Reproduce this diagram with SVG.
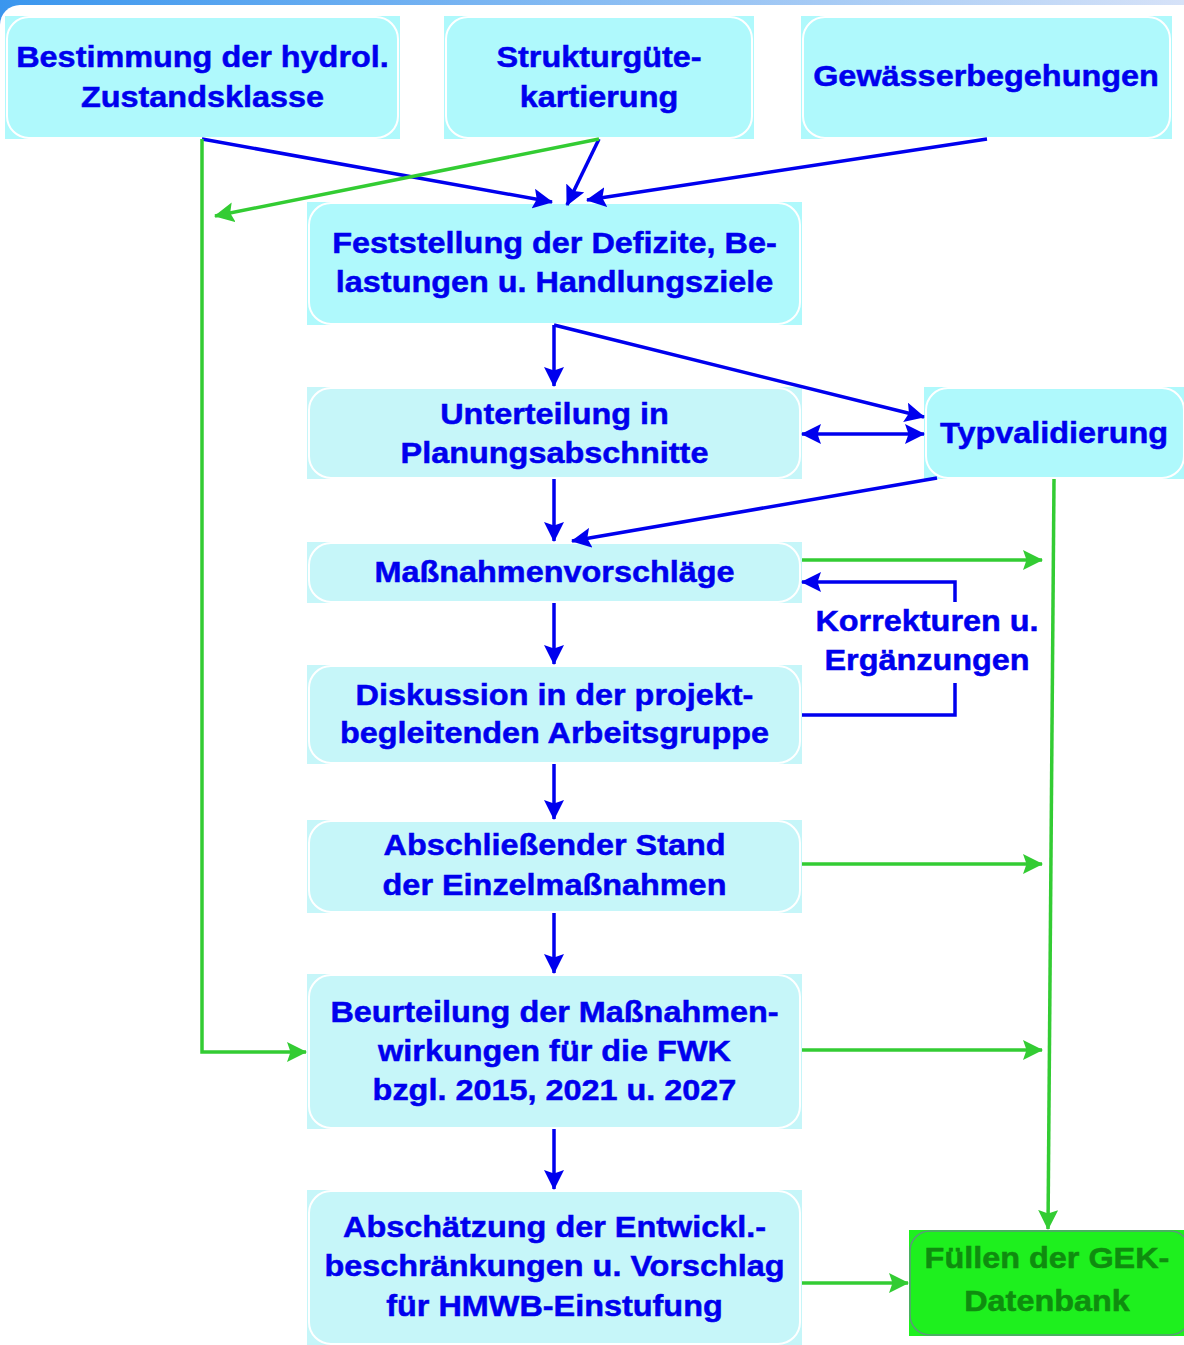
<svg xmlns="http://www.w3.org/2000/svg" width="1184" height="1345" viewBox="0 0 1184 1345">
<defs>
<linearGradient id="topg" x1="0" y1="0" x2="1" y2="0">
<stop offset="0" stop-color="#3a96ee"/>
<stop offset="1" stop-color="#d6e2f8"/>
</linearGradient>
<marker id="ab" viewBox="0 0 20 20" refX="19" refY="10" markerWidth="20" markerHeight="20" markerUnits="userSpaceOnUse" orient="auto-start-reverse">
<path d="M0,0 L20,10 L0,20 L3.5,10 Z" fill="#0000ee"/>
</marker>
<marker id="ag" viewBox="0 0 20 20" refX="19" refY="10" markerWidth="20" markerHeight="20" markerUnits="userSpaceOnUse" orient="auto">
<path d="M0,0 L20,10 L0,20 L3.5,10 Z" fill="#33cc33"/>
</marker>
</defs>
<style>
.t{font-family:"Liberation Sans",Arial,Helvetica,sans-serif;font-weight:bold;font-size:30px;fill:#0000ee;stroke:#0000ee;stroke-width:0.5;text-anchor:middle}
.tg{font-family:"Liberation Sans",Arial,Helvetica,sans-serif;font-weight:bold;font-size:30px;fill:#0f8c0f;stroke:#0f8c0f;stroke-width:0.5;text-anchor:middle}
.bA{fill:#aff9fc}
.bB{fill:#c6f6f9}
.ol{fill:none;stroke:#ffffff;stroke-width:2}
.cb{fill:none;stroke:#0000ee;stroke-width:3.5}
.cg{fill:none;stroke:#33cc33;stroke-width:3.5}
</style>
<rect x="0" y="0" width="1184" height="30" fill="url(#topg)"/>
<rect x="0" y="5" width="1220" height="1400" rx="20" fill="#ffffff"/>

<g id="n1">
<rect class="bA" x="5" y="16" width="395" height="123"/>
<rect class="ol" x="7" y="17" width="391" height="121" rx="22"/>
<text class="t" transform="translate(202.5,0) scale(1.08,1)"><tspan x="0" y="67">Bestimmung der hydrol.</tspan><tspan x="0" y="107">Zustandsklasse</tspan></text>
</g>
<g id="n2">
<rect class="bA" x="444" y="16" width="310" height="123"/>
<rect class="ol" x="446" y="17" width="306" height="121" rx="22"/>
<text class="t" transform="translate(599,0) scale(1.08,1)"><tspan x="0" y="67">Strukturgüte-</tspan><tspan x="0" y="107">kartierung</tspan></text>
</g>
<g id="n3">
<rect class="bA" x="801" y="16" width="371" height="123"/>
<rect class="ol" x="803" y="17" width="367" height="121" rx="22"/>
<text class="t" transform="translate(986,0) scale(1.08,1)"><tspan x="0" y="86">Gewässerbegehungen</tspan></text>
</g>
<g id="n4">
<rect class="bA" x="307" y="202" width="495" height="123"/>
<rect class="ol" x="309" y="203" width="491" height="121" rx="22"/>
<text class="t" transform="translate(554.5,0) scale(1.08,1)"><tspan x="0" y="253">Feststellung der Defizite, Be-</tspan><tspan x="0" y="292">lastungen u. Handlungsziele</tspan></text>
</g>
<g id="n5">
<rect class="bB" x="307" y="387" width="495" height="92"/>
<rect class="ol" x="309" y="388" width="491" height="90" rx="22"/>
<text class="t" transform="translate(554.5,0) scale(1.08,1)"><tspan x="0" y="424">Unterteilung in</tspan><tspan x="0" y="463">Planungsabschnitte</tspan></text>
</g>
<g id="n6">
<rect class="bA" x="924" y="387" width="260" height="92"/>
<rect class="ol" x="926" y="388" width="258" height="90" rx="22"/>
<text class="t" transform="translate(1054,0) scale(1.08,1)"><tspan x="0" y="443">Typvalidierung</tspan></text>
</g>
<g id="n7">
<rect class="bB" x="307" y="542" width="495" height="61"/>
<rect class="ol" x="309" y="543" width="491" height="59" rx="22"/>
<text class="t" transform="translate(554.5,0) scale(1.08,1)"><tspan x="0" y="582">Maßnahmenvorschläge</tspan></text>
</g>
<g id="n8">
<rect class="bB" x="307" y="665" width="495" height="99"/>
<rect class="ol" x="309" y="666" width="491" height="97" rx="22"/>
<text class="t" transform="translate(554.5,0) scale(1.08,1)"><tspan x="0" y="705">Diskussion in der projekt-</tspan><tspan x="0" y="743">begleitenden Arbeitsgruppe</tspan></text>
</g>
<g id="n9">
<rect class="bB" x="307" y="820" width="495" height="93"/>
<rect class="ol" x="309" y="821" width="491" height="91" rx="22"/>
<text class="t" transform="translate(554.5,0) scale(1.08,1)"><tspan x="0" y="855">Abschließender Stand</tspan><tspan x="0" y="895">der Einzelmaßnahmen</tspan></text>
</g>
<g id="n10">
<rect class="bB" x="307" y="974" width="495" height="155"/>
<rect class="ol" x="309" y="975" width="491" height="153" rx="22"/>
<text class="t" transform="translate(554.5,0) scale(1.08,1)"><tspan x="0" y="1022">Beurteilung der Maßnahmen-</tspan><tspan x="0" y="1061">wirkungen für die FWK</tspan><tspan x="0" y="1100">bzgl. 2015, 2021 u. 2027</tspan></text>
</g>
<g id="n11">
<rect class="bB" x="307" y="1190" width="495" height="155"/>
<rect class="ol" x="309" y="1191" width="491" height="153" rx="22"/>
<text class="t" transform="translate(554.5,0) scale(1.08,1)"><tspan x="0" y="1237">Abschätzung der Entwickl.-</tspan><tspan x="0" y="1276">beschränkungen u. Vorschlag</tspan><tspan x="0" y="1316">für HMWB-Einstufung</tspan></text>
</g>
<g id="n12">
<rect x="909" y="1230" width="275" height="106" fill="#1ef01e"/>
<rect x="910" y="1231" width="280" height="104" rx="20" fill="none" stroke="#5a9a78" stroke-width="1.5"/>
<text class="tg" transform="translate(1047,0) scale(1.08,1)"><tspan x="0" y="1268">Füllen der GEK-</tspan><tspan x="0" y="1311">Datenbank</tspan></text>
</g>
<g id="lbl">
<text class="t" transform="translate(927,0) scale(1.08,1)"><tspan x="0" y="631">Korrekturen u.</tspan><tspan x="0" y="670">Ergänzungen</tspan></text>
</g>

<g id="connectors">
<line class="cb" x1="202" y1="139" x2="552" y2="202" marker-end="url(#ab)"/>
<line class="cb" x1="599" y1="139" x2="567" y2="205" marker-end="url(#ab)"/>
<line class="cb" x1="987" y1="139" x2="587" y2="200" marker-end="url(#ab)"/>
<line class="cg" x1="599" y1="139" x2="215" y2="216" marker-end="url(#ag)"/>
<polyline class="cg" points="202,139 202,1052 306,1052" marker-end="url(#ag)"/>
<line class="cb" x1="554" y1="325" x2="554" y2="386" marker-end="url(#ab)"/>
<polyline class="cb" points="554,325 924,417" marker-end="url(#ab)"/>
<line class="cb" x1="802" y1="434" x2="924" y2="434" marker-start="url(#ab)" marker-end="url(#ab)"/>
<line class="cb" x1="937" y1="478" x2="572" y2="541" marker-end="url(#ab)"/>
<line class="cb" x1="554" y1="479" x2="554" y2="541" marker-end="url(#ab)"/>
<line class="cg" x1="802" y1="560" x2="1042" y2="560" marker-end="url(#ag)"/>
<polyline class="cb" points="802,715 955,715 955,683"/>
<polyline class="cb" points="955,602 955,582 802,582" marker-end="url(#ab)"/>
<line class="cb" x1="554" y1="603" x2="554" y2="664" marker-end="url(#ab)"/>
<line class="cb" x1="554" y1="764" x2="554" y2="819" marker-end="url(#ab)"/>
<line class="cg" x1="802" y1="864" x2="1042" y2="864" marker-end="url(#ag)"/>
<line class="cb" x1="554" y1="913" x2="554" y2="973" marker-end="url(#ab)"/>
<line class="cg" x1="802" y1="1050" x2="1042" y2="1050" marker-end="url(#ag)"/>
<line class="cb" x1="554" y1="1129" x2="554" y2="1189" marker-end="url(#ab)"/>
<line class="cg" x1="802" y1="1283" x2="908" y2="1283" marker-end="url(#ag)"/>
<line class="cg" x1="1054" y1="479" x2="1048" y2="1229" marker-end="url(#ag)"/>
</g>
</svg>
